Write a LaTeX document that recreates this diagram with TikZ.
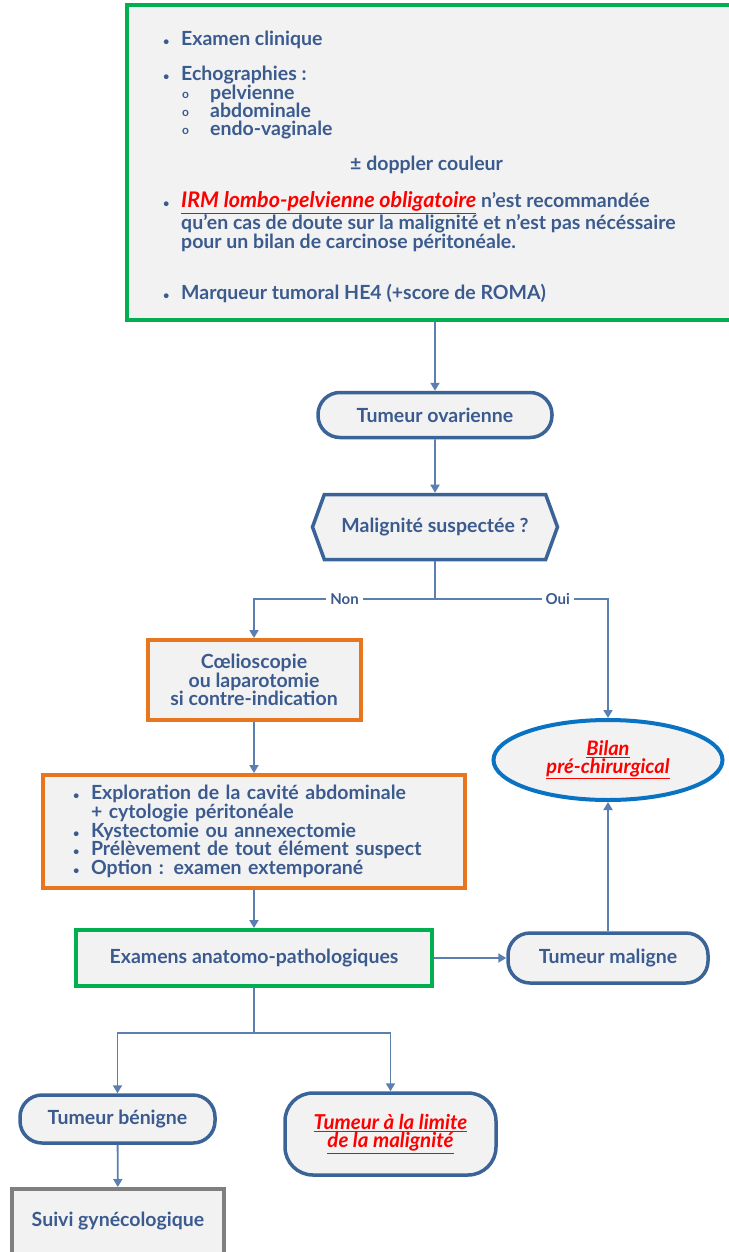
\documentclass[tikz,border=0pt]{standalone}
\usepackage{fontspec}
\setmainfont{Lato}
\usetikzlibrary{arrows.meta,shapes.geometric,shapes.symbols}
\definecolor{txtblue}{HTML}{3B5B8F}
\definecolor{linkblue}{HTML}{5A7FB0}
\definecolor{boxfill}{HTML}{F2F2F2}
\definecolor{okgreen}{HTML}{00B050}
\definecolor{boxorange}{HTML}{E8761F}
\definecolor{pillblue}{HTML}{3A6497}
\definecolor{ovalblue}{HTML}{0A72C2}
\definecolor{boxgrey}{HTML}{7F7F7F}
\definecolor{alertred}{HTML}{FF0000}
\newcommand{\bul}{\makebox[18pt][l]{\fontsize{11}{11}\selectfont\textbullet}}
\newcommand{\subbul}{\hspace*{19pt}\makebox[28pt][l]{\raisebox{0.5pt}{\fontsize{12}{12}\selectfont o}}}
\newcommand{\redul}[1]{\textcolor{alertred}{\underline{\itshape #1}}}
\begin{document}
\begin{tikzpicture}[x=1pt,y=-1pt,
	every node/.style={font=\fontsize{19.5}{18}\selectfont\bfseries,text=txtblue},
	square/.style={draw,fill=boxfill,line width=4pt,inner sep=0pt},
	pill/.style={draw=pillblue,fill=boxfill,line width=3.5pt,rounded corners=22pt,inner sep=0pt,align=center},
	link/.style={draw=linkblue,line width=1.8pt,-{Triangle[width=9pt,length=8pt]}},
	wire/.style={draw=linkblue,line width=1.8pt},
	answer/.style={fill=white,inner sep=4pt,font=\fontsize{15}{15}\selectfont\bfseries}]

	\useasboundingbox (0,0) rectangle (728,1252);

	\node[square,draw=okgreen,minimum width=613,minimum height=315] (topbox) at (433.5,162.5) {};
	\node[anchor=north west,align=left,inner sep=0pt] (toptxt) at (163,30.5) {\bul Examen clinique\\[17pt]
		\bul Echographies :\\
		\subbul pelvienne\\
		\subbul abdominale\\
		\subbul endo-vaginale\\[16pt]
		\hspace*{187pt}± doppler couleur\\[17pt]
		\bul{\fontsize{21.5}{18}\selectfont\redul{IRM lombo-pelvienne obligatoire}} n’est recommandée\\
		\hspace*{18pt}qu’en cas de doute sur la malignité et n'est pas nécéssaire\\
		\hspace*{18pt}pour un bilan de carcinose péritonéale.\\[32pt]
		\bul Marqueur tumoral HE4 (+score de ROMA)};

	\node[pill,minimum width=234,minimum height=45] (ovar) at (435,415) {Tumeur ovarienne};
	\node[signal,signal to=east and west,signal pointer angle=140,draw=pillblue,fill=boxfill,line width=3.5pt,
		minimum width=245,minimum height=65,inner sep=0pt] (malig) at (435,527) {Malignité suspectée ?};
	\coordinate (split) at (435,599);

	\node[square,draw=boxorange,minimum width=213,minimum height=80,align=center,
		font=\fontsize{19.5}{15.5}\selectfont\bfseries] (coel) at (254,680) {Cœlioscopie\\ou laparotomie\\si contre-indication};
	\node[ellipse,draw=ovalblue,fill=boxfill,line width=4pt,minimum width=229,minimum height=80,inner sep=0pt,align=center,
		font=\fontsize{20}{16}\selectfont\bfseries] (bilan) at (608,760) {\redul{Bilan}\\\redul{pré-chirurgical}};

	\node[square,draw=boxorange,minimum width=422,minimum height=113,text width=362,align=left,
		font=\fontsize{19.5}{17.3}\selectfont\bfseries] (explo) at (254,831.5) {\bul Exploration de la cavité abdominale\\
		\hspace*{18pt}+ cytologie péritonéale\\
		\bul Kystectomie ou annexectomie\\
		\bul Prélèvement de tout élément suspect\\
		\bul Option : examen extemporané};

	\node[square,draw=okgreen,minimum width=356,minimum height=56] (exam) at (254,958) {Examens anatomo-pathologiques};
	\node[pill,minimum width=200,minimum height=50] (maligne) at (608,958) {Tumeur maligne};
	\coordinate (split2) at (254,1033);

	\node[pill,minimum width=195,minimum height=48] (benigne) at (117.5,1119) {Tumeur bénigne};
	\node[pill,rounded corners=28pt,minimum width=211,minimum height=82,font=\fontsize{20.5}{17}\selectfont\bfseries]
		(limite) at (390.5,1134) {\redul{Tumeur à la limite}\\\redul{de la malignité}};
	\node[square,draw=boxgrey,minimum width=212,minimum height=76,text height=13pt,text depth=15pt] (suivi) at (118,1227) {Suivi gynécologique};

	\path[link] (topbox.south -| ovar) -- (ovar);
	\path[link] (ovar) -- (malig);
	\path[wire] (malig) -- (split);
	\path[link] (split) -| node[answer,pos=0.25] {Non} (coel);
	\path[link] (split) -| node[answer,pos=0.355] {Oui} (bilan);
	\path[link] (coel) -- (explo);
	\path[link] (explo) -- (exam);
	\path[link] (exam) -- (maligne);
	\path[link] (maligne) -- (bilan);
	\path[wire] (exam) -- (split2);
	\path[link] (split2) -| (benigne);
	\path[link] (split2) -| (limite);
	\path[link] (benigne) -- (suivi);

\end{tikzpicture}
\end{document}
